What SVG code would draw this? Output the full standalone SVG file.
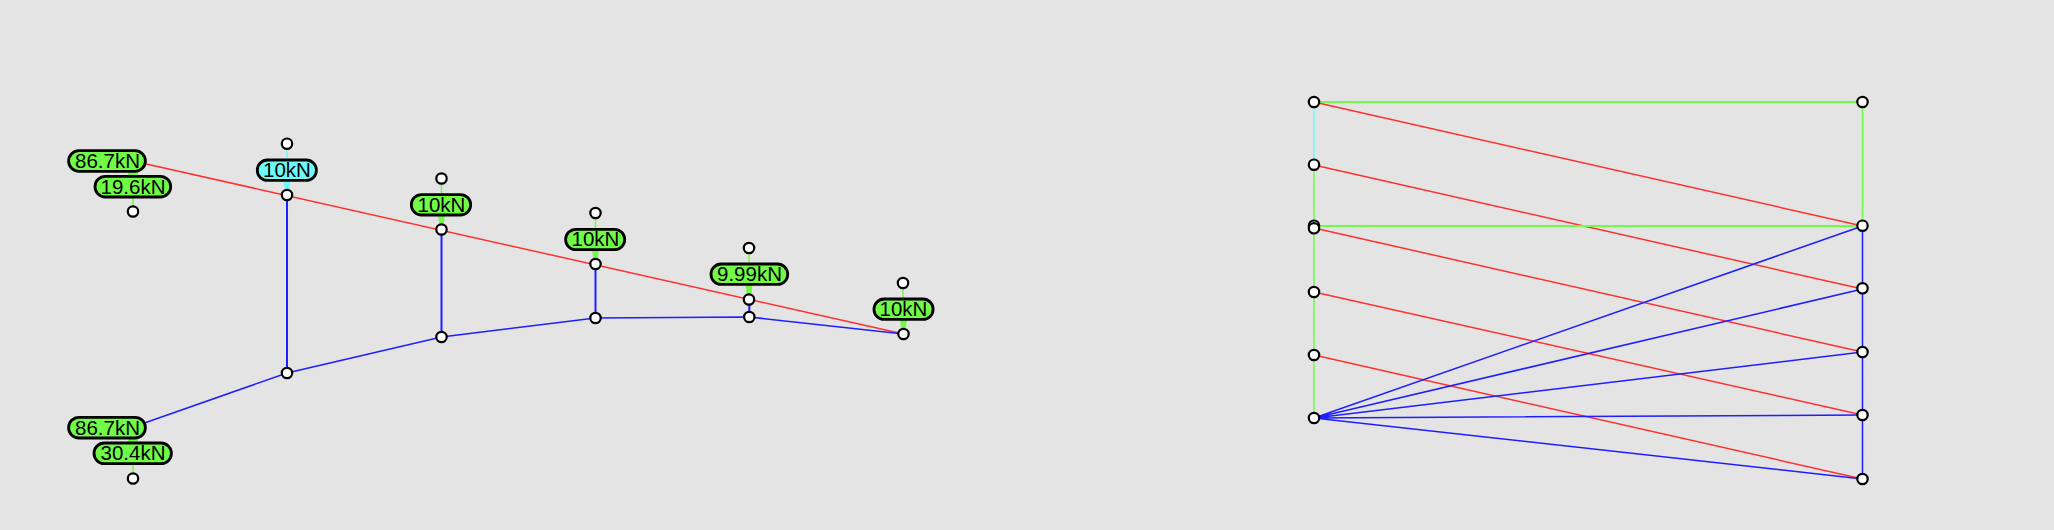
<svg xmlns="http://www.w3.org/2000/svg" width="2054" height="530" viewBox="0 0 2054 530">
<style>
.n{fill:#fff;stroke:#000;stroke-width:2.2}
.l{fill:#70fb47;stroke:#000;stroke-width:2.8}
.c{fill:#70fbfb}
text{font-family:"Liberation Sans",Arial,sans-serif;font-size:20.500px;text-anchor:middle;fill:#000}
.r{stroke:#ff3030;stroke-width:1.500;fill:none}
.b{stroke:#1e1eff;stroke-width:1.500;fill:none}
.g{stroke:#70fb47;stroke-width:1.500;fill:none}
.y{stroke:#70fbfb;stroke-width:1.500;fill:none}
.w{fill:#70fb47}
</style>
<rect width="2054" height="530" fill="#e4e4e4"/>
<g id="connectors">
<path class="r" d="M133 161L903.500 334"/>
<path class="b" d="M133 427L287 373L441.500 337L595.500 318L749.300 317L903.500 334"/>
<path class="b" style="stroke-width:2" d="M287 195V373M441.500 229.500V337M595.500 264V318M749.300 299V317"/>
<path class="g" d="M133 212V175M133 479V440M441.500 179V195M595.500 213V230M749 248V265M903 283V300"/>
<path class="y" d="M287 144V160"/>
<path class="c" d="M283.500 181H290.500L288.500 195H285.500Z"/>
<path class="w" d="M438 215H445L443 229H440Z"/>
<path class="w" d="M592 250H599L597 264H594Z"/>
<path class="w" d="M745.500 285H752.500L750.500 299H747.500Z"/>
<path class="w" d="M900 320H907L905 334H902Z"/>
<path class="w" d="M128 172H138V176H128Z"/>
<path class="w" d="M128 438H138V443H128Z"/>
<path class="r" d="M1314 102L1862.500 226M1314 165L1862.500 289M1314 228L1862.500 352M1314 292L1862.500 415M1314 355L1862.500 479"/>
<path class="b" d="M1314 418L1862.500 226M1314 418L1862.500 289M1314 418L1862.500 352M1314 418L1862.500 415M1314 418L1862.500 479"/>
<path class="g" style="stroke-width:2" d="M1314 102H1862.500M1314 226H1862.500"/>
<path class="g" d="M1862.500 102V226"/>
<path class="y" d="M1314 102V165"/>
<path class="g" d="M1314 165V418"/>
<path class="b" d="M1862.500 226V479"/>
</g>
<g id="label-a"><rect class="l" x="68.600" y="150.600" width="76.800" height="20.800" rx="10.400"/><text x="107.500" y="168.300">86.7kN</text></g>
<g id="label-b"><rect class="l" x="95" y="176.300" width="75.700" height="20.700" rx="10.400"/><text x="133" y="193.800">19.6kN</text></g>
<g id="label-c"><rect class="l" x="68.600" y="417.300" width="76.800" height="20.700" rx="10.400"/><text x="107.500" y="434.800">86.7kN</text></g>
<g id="label-d"><rect class="l" x="94" y="443" width="77.400" height="20.700" rx="10.400"/><text x="133" y="460.300">30.4kN</text></g>
<g id="label-e"><rect class="l c" x="257.300" y="160" width="59.100" height="20.400" rx="10.200"/><text x="287" y="177">10kN</text></g>
<g id="label-f"><rect class="l" x="411.300" y="194.600" width="59.400" height="20.400" rx="10.200"/><text x="441.500" y="211.600">10kN</text></g>
<g id="label-g"><rect class="l" x="565.600" y="229.300" width="59.100" height="20.400" rx="10.200"/><text x="595.500" y="246.300">10kN</text></g>
<g id="label-h"><rect class="l" x="711" y="264" width="76.700" height="20.400" rx="10.200"/><text x="749.500" y="281">9.99kN</text></g>
<g id="label-i"><rect class="l" x="874" y="299" width="59.100" height="20.400" rx="10.200"/><text x="903.500" y="316">10kN</text></g>
<g id="nodes-left">
<circle class="n" cx="133" cy="211.500" r="5.200"/><circle class="n" cx="133" cy="478.500" r="5.200"/>
<circle class="n" cx="287" cy="143.700" r="5.200"/><circle class="n" cx="441.500" cy="178.500" r="5.200"/><circle class="n" cx="595.500" cy="213" r="5.200"/><circle class="n" cx="749" cy="248" r="5.200"/><circle class="n" cx="903" cy="283" r="5.200"/>
<circle class="n" cx="287" cy="195" r="5.200"/><circle class="n" cx="441.500" cy="229.500" r="5.200"/><circle class="n" cx="595.500" cy="264" r="5.200"/><circle class="n" cx="749" cy="299.500" r="5.200"/><circle class="n" cx="903.500" cy="334" r="5.200"/>
<circle class="n" cx="287" cy="373" r="5.200"/><circle class="n" cx="441.500" cy="337" r="5.200"/><circle class="n" cx="595.500" cy="318" r="5.200"/><circle class="n" cx="749.300" cy="317" r="5.200"/>
</g>
<g id="nodes-right">
<circle class="n" cx="1314" cy="102" r="5.200"/><circle class="n" cx="1314" cy="164.700" r="5.200"/><circle class="n" cx="1314" cy="225.700" r="5.200"/><circle class="n" cx="1314" cy="228.300" r="5.200"/><circle class="n" cx="1314" cy="292" r="5.200"/><circle class="n" cx="1314" cy="355" r="5.200"/><circle class="n" cx="1314" cy="418" r="5.200"/>
<circle class="n" cx="1862.500" cy="102" r="5.200"/><circle class="n" cx="1862.500" cy="225.700" r="5.200"/><circle class="n" cx="1862.500" cy="288.300" r="5.200"/><circle class="n" cx="1862.500" cy="352" r="5.200"/><circle class="n" cx="1862.500" cy="415" r="5.200"/><circle class="n" cx="1862.500" cy="479" r="5.200"/>
</g>
</svg>
